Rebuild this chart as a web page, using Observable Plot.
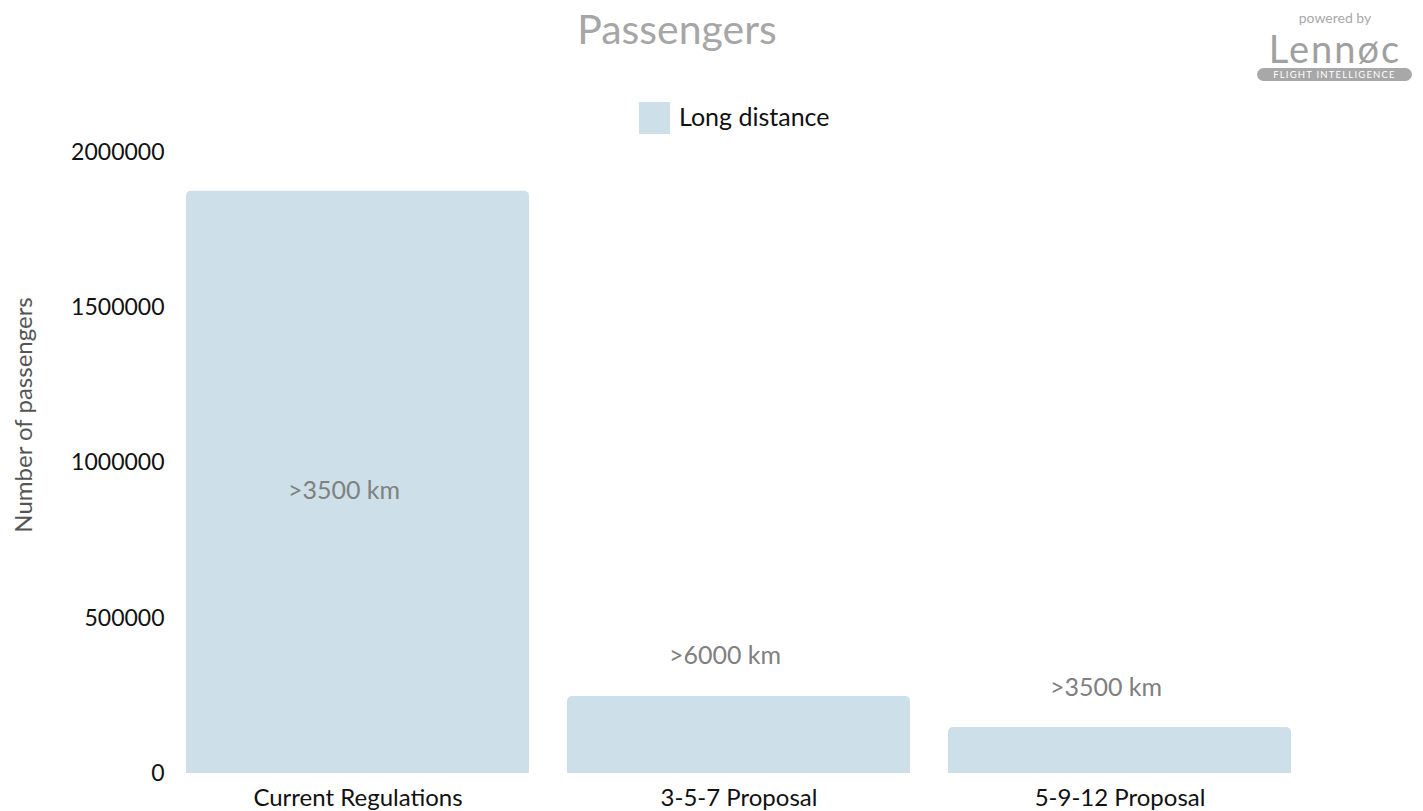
<!DOCTYPE html>
<html>
<head>
<meta charset="utf-8">
<script src="https://cdn.jsdelivr.net/npm/d3@7"></script>
<script src="https://cdn.jsdelivr.net/npm/@observablehq/plot@0.6"></script>
<style>
  html, body { margin: 0; padding: 0; background: #fff; }
  body { width: 1423px; height: 811px; position: relative; overflow: hidden; font-family: Lato, "Noto Sans", sans-serif; }
  #header { position: relative; height: 135px; }
  #title { position: absolute; left: 0; width: 1354px; top: 4px; text-align: center; font-size: 41px; color: #a6a6a6; line-height: 50px; }
  #legend { position: absolute; left: 639px; top: 102px; height: 32px; display: flex; align-items: center; font-size: 25px; color: #111; }
  #legend .sw { width: 31px; height: 32px; background: #cde0e9; margin-right: 9px; }
  #legend span { position: relative; top: -2px; }
  .lg { position: absolute; color: #a0a0a0; white-space: nowrap; }
  #pw { left: 1293px; top: 9px; width: 84px; text-align: center; font-size: 14px; line-height: 18px; color: #a8a8a8; }
  #nm { left: 1257px; top: 31px; width: 156px; height: 34px; text-align: center; font-size: 38px; line-height: 34px; letter-spacing: 2px; color: #a0a0a0; }
  #pill { left: 1257px; top: 68px; width: 155px; height: 13px; text-align: center; background: #a8a8a8; color: #fff; border-radius: 7px; font-size: 9.5px; letter-spacing: 1.2px; line-height: 13px; }
  #ylabel { position: absolute; left: 22px; top: 415px; transform: translate(-50%, -50%) rotate(-90deg); font-size: 24px; color: #555; white-space: nowrap; }
  #chart svg { display: block; }
</style>
</head>
<body>
<div id="header">
  <div id="title">Passengers</div>
  <div id="legend"><div class="sw"></div><span>Long distance</span></div>
  <div class="lg" id="pw">powered by</div>
  <div class="lg" id="nm">Lenn&oslash;c</div>
  <div class="lg" id="pill">FLIGHT INTELLIGENCE</div>
</div>
<div id="ylabel">Number of passengers</div>
<div id="chart"></div>
<script>
const categories = ["Current Regulations", "3-5-7 Proposal", "5-9-12 Proposal"];
const passengers = [1875000, 248000, 148000];
const distanceLabels = [">3500 km", ">6000 km", ">3500 km"];
const yTicks = [0, 500000, 1000000, 1500000, 2000000];

const data = categories.map((c, i) => ({category: c, value: passengers[i], label: distanceLabels[i]}));
const big = data.filter(d => d.value > 1000000);
const small = data.filter(d => d.value <= 1000000);

const chart = Plot.plot({
  width: 1423,
  height: 676,
  marginLeft: 166,
  marginRight: 112,
  marginTop: 17,
  marginBottom: 38,
  style: {fontFamily: "Lato, 'Noto Sans', sans-serif", background: "#fff"},
  x: {domain: categories, paddingInner: 0.1, paddingOuter: 0.05, label: null},
  y: {domain: [0, 2000000], label: null},
  marks: [
    Plot.barY(data, {x: "category", y: "value", fill: "#cde0e9", rx: 5}),
    Plot.barY(data, {x: "category", y: d => d.value / 2, fill: "#cde0e9"}),
    Plot.text(big, {x: "category", y: d => d.value / 2, text: "label", fill: "#808080", fontSize: 25, dy: 9, dx: -14}),
    Plot.text(small, {x: "category", y: "value", text: "label", fill: "#808080", fontSize: 25, dy: -40, dx: -14}),
    Plot.axisX({tickSize: 0, tickPadding: 15, fontSize: 24, fill: "#111", label: null}),
    Plot.axisY({ticks: yTicks, tickFormat: d => String(d), tickSize: 0, tickPadding: 2, fontSize: 23, fill: "#111", label: null})
  ]
});
document.getElementById("chart").appendChild(chart);
</script>
</body>
</html>
